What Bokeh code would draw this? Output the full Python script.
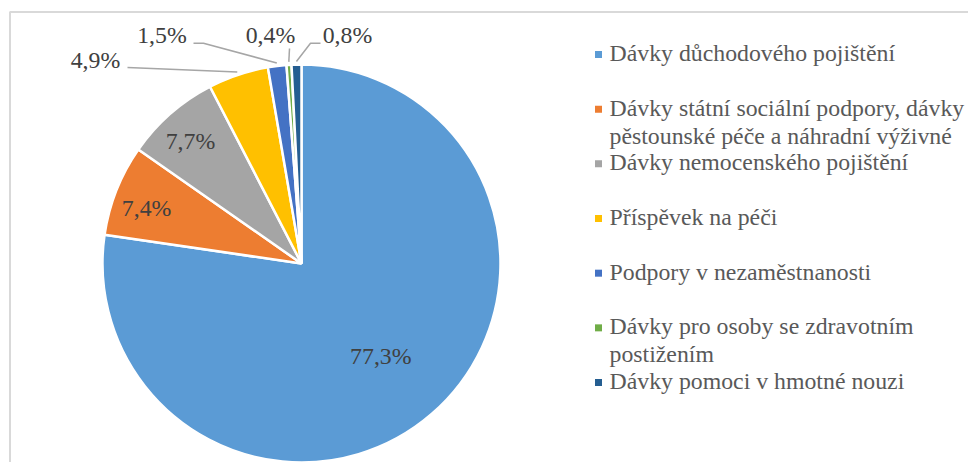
import math
from bokeh.plotting import figure
from bokeh.models import Range1d, ColumnDataSource
from bokeh.core.properties import value
from bokeh.embed import file_html
from bokeh.resources import INLINE

# ---------------- data ----------------
categories = [
    "Dávky důchodového pojištění",
    "Dávky státní sociální podpory, dávky pěstounské péče a náhradní výživné",
    "Dávky nemocenského pojištění",
    "Příspěvek na péči",
    "Podpory v nezaměstnanosti",
    "Dávky pro osoby se zdravotním postižením",
    "Dávky pomoci v hmotné nouzi",
]
legend_lines = [
    ["Dávky důchodového pojištění"],
    ["Dávky státní sociální podpory, dávky", "pěstounské péče a náhradní výživné"],
    ["Dávky nemocenského pojištění"],
    ["Příspěvek na péči"],
    ["Podpory v nezaměstnanosti"],
    ["Dávky pro osoby se zdravotním", "postižením"],
    ["Dávky pomoci v hmotné nouzi"],
]
shares = [77.3, 7.4, 7.7, 4.9, 1.5, 0.4, 0.8]
colors = ["#5B9BD5", "#ED7D31", "#A5A5A5", "#FFC000", "#4472C4", "#70AD47", "#255E91"]

# ---------------- layout ----------------
W, H = 968, 462


def X(px):
    return px


def Y(py):
    return H - py


TEXT_DY = -9.5  # baseline correction for the svg text renderer

FONT = value("Liberation Serif")
FS = "23.8px"
LABEL_COLOR = "#404040"
LEGEND_COLOR = "#595959"

CX, CY, R = 301, 263, 199

# inside labels: (radius, angle shift in degrees)
inside = {0: (123, 0.7), 1: (164, -2.4), 2: (164, -1.4)}
# outside labels: (center x, baseline y) and leader start points (image px)
outside = {
    3: ((95, 69), [(127, 67)]),
    4: ((161.5, 44), [(193, 42.7), (203, 42.7)]),
    5: ((270, 44), [(289, 48)]),
    6: ((347, 44), [(320, 42.7), (310, 42.7)]),
}

p = figure(width=W, height=H, output_backend="svg", toolbar_location=None,
           x_range=Range1d(0, W), y_range=Range1d(0, H),
           x_axis_location=None, y_axis_location=None, min_border=0)
p.grid.visible = False
p.outline_line_color = None
p.background_fill_color = "white"
p.border_fill_color = "white"

# frame (only top & left edges visible in the crop)
p.line(x=[X(9.5), X(9.5), X(968)], y=[Y(462), Y(11.5), Y(11.5)],
       line_color="#d9d9d9", line_width=2)

total = sum(shares)
cum = [0.0]
for s in shares:
    cum.append(cum[-1] + s / total)
starts = [math.pi / 2 - 2 * math.pi * cum[i] for i in range(len(shares))]
ends = [math.pi / 2 - 2 * math.pi * cum[i + 1] for i in range(len(shares))]

src = ColumnDataSource(dict(start=starts, end=ends, color=colors, cat=categories))
p.wedge(x=X(CX), y=Y(CY), radius=R, start_angle="start", end_angle="end",
        direction="clock", fill_color="color", line_color="white", line_width=2.5,
        source=src)

labels = [f"{s:.1f}".replace(".", ",") + "%" for s in shares]

lx, ly, lt = [], [], []
for i, (r, sh) in inside.items():
    mid = (cum[i] + cum[i + 1]) / 2
    th = 2 * math.pi * mid + math.radians(sh)
    px = CX + r * math.sin(th)
    pyc = CY - r * math.cos(th)
    lx.append(X(px))
    ly.append(Y(pyc + 8 + TEXT_DY))
    lt.append(labels[i])

for i, ((tx, tb), pts) in outside.items():
    lx.append(X(tx))
    ly.append(Y(tb + TEXT_DY))
    lt.append(labels[i])
    mid = (cum[i] + cum[i + 1]) / 2
    th = 2 * math.pi * mid
    ex = CX + (R + 3) * math.sin(th)
    ey = CY - (R + 3) * math.cos(th)
    xs = [X(a) for a, b in pts] + [X(ex)]
    ys = [Y(b) for a, b in pts] + [Y(ey)]
    p.line(x=xs, y=ys, line_color="#a6a6a6", line_width=1.5)

p.text(x=lx, y=ly, text=lt, text_font=FONT, text_font_size=FS,
       text_color=LABEL_COLOR, text_align="center", text_baseline="alphabetic")

# legend
tx, ty, tt = [], [], []
mx, my = [], []
for i, lines in enumerate(legend_lines):
    base = 62 + i * 54.67
    mx.append(X(598))
    my.append(Y(base - 8))
    for j, line in enumerate(lines):
        tx.append(X(609))
        ty.append(Y(base + 28 * j + TEXT_DY))
        tt.append(line)

p.scatter(x=mx, y=my, marker="square", size=7, fill_color=colors, line_color=None)
p.text(x=tx, y=ty, text=tt, text_font=FONT, text_font_size=FS,
       text_color=LEGEND_COLOR, text_align="left", text_baseline="alphabetic")

open("out.html", "w").write(file_html(p, INLINE))
